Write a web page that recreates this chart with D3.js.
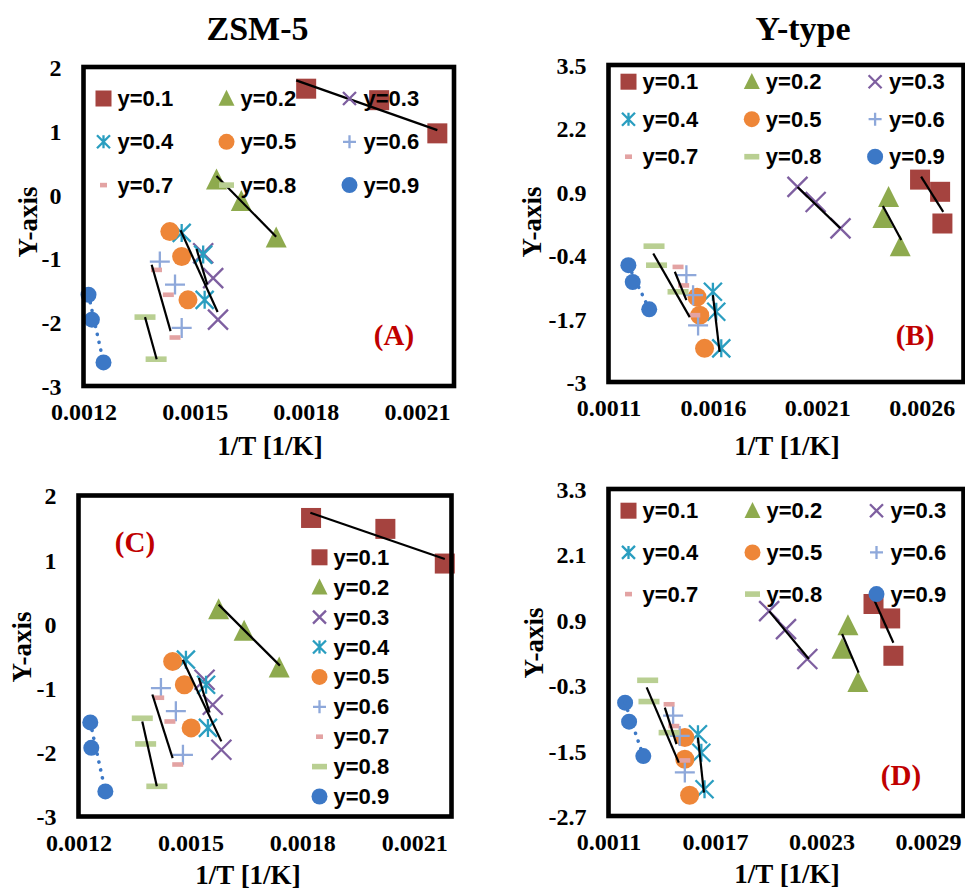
<!DOCTYPE html>
<html><head><meta charset="utf-8">
<script src="https://cdn.jsdelivr.net/npm/d3@7"></script>
<style>body{margin:0;background:#fff} svg{display:block}</style>
</head><body><svg id="c" width="965" height="891"></svg>
<script>
// ---------- data ----------
const seriesLabels = ["y=0.1","y=0.2","y=0.3","y=0.4","y=0.5","y=0.6","y=0.7","y=0.8","y=0.9"];
const panelTitles = ["ZSM-5","Y-type"];
const panelTags = ["(A)","(B)","(C)","(D)"];

// Panel A (ZSM-5, top)
const xA = [[0.001801,0.001998,0.002155],[0.001559,0.001626,0.001720],[0.001523,0.00155,0.001563],
  [0.001465,0.001523,0.001527],[0.001433,0.001465,0.001482],[0.001406,0.001447,0.001465],
  [0.001397,0.001429,0.001447],[0.001366,0.001396],[0.0012135,0.0012226,0.001254]];
const yA = [[1.66,1.48,0.96],[0.23,-0.11,-0.68],[-0.92,-1.31,-1.96],[-0.60,-0.94,-1.65],
  [-0.58,-0.97,-1.65],[-1.05,-1.41,-2.09],[-1.18,-1.57,-2.24],[-1.92,-2.58],[-1.57,-1.96,-2.63]];
// trend lines: [series, x1, y1, x2, y2]
const trA = [[0,0.001774,1.79,0.002155,1.01],[1,0.001559,0.29,0.00172,-0.66],[3,0.001462,-0.56,0.001562,-1.84],
  [2,0.001505,-0.85,0.001534,-1.41],[6,0.001384,-1.10,0.001435,-2.14],[7,0.001366,-1.92,0.0013975,-2.58],
  [8,0.0012135,-1.57,0.001254,-2.63]];

// Panel B (Y-type, top)
const xB = [[0.002592,0.002688,0.002699],[0.002441,0.002414,0.002497],[0.002005,0.002092,0.002211],
  [0.0016,0.001616,0.00164],[0.001524,0.001537,0.00156],[0.001473,0.001505,0.001529],
  [0.001433,0.00146,0.001513],[0.001318,0.00133,0.001433],[0.0011952,0.001216,0.001295]];
const yB = [[1.15,0.90,0.25],[0.78,0.35,-0.23],[1.0,0.69,0.15],[-1.15,-1.56,-2.31],[-1.26,-1.63,-2.31],
  [-0.81,-1.22,-1.84],[-0.64,-1.02,-1.63],[-0.215,-0.605,-1.15],[-0.605,-0.95,-1.51]];
const trB = [[0,0.002597,1.21,0.002703,0.49],[1,0.002414,0.61,0.002502,-0.09],[2,0.002005,1.0,0.002211,0.15],
  [7,0.0013143,-0.365,0.001489,-1.67],[6,0.0014176,-0.74,0.001473,-1.32],[3,0.0016,-1.22,0.001632,-2.38],
  [8,0.0011952,-0.605,0.001295,-1.51]];

// Panel C (ZSM-5, bottom)
const xC = [[0.0018235,0.0020227,0.002182],[0.0015757,0.001644,0.001738],[0.001538,0.00156,0.001583],
  [0.001488,0.001542,0.001547],[0.0014524,0.0014838,0.001502],[0.001421,0.001461,0.00148],
  [0.001415,0.001445,0.001466],[0.001371,0.00138,0.00141],[0.0012316,0.0012343,0.001272]];
const yC = [[1.65,1.48,0.94],[0.22,-0.116,-0.687],[-0.87,-1.26,-1.96],[-0.557,-0.947,-1.62],
  [-0.584,-0.947,-1.62],[-1.0,-1.36,-2.04],[-1.15,-1.52,-2.19],[-1.47,-1.87,-2.53],[-1.535,-1.93,-2.61]];
const trC = [[0,0.0018216,1.73,0.002182,1.01],[1,0.0015757,0.30,0.00174,-0.65],[3,0.0014795,-0.557,0.001583,-1.83],
  [2,0.0015227,-0.843,0.0015514,-1.38],[6,0.001398,-1.10,0.0014524,-2.09],[7,0.001371,-1.52,0.00141,-2.53],
  [8,0.0012316,-1.535,0.001272,-2.61]];

// Panel D (Y-type, bottom)
const xD = [[0.002593,0.002687,0.002705],[0.002449,0.002416,0.002505],[0.002005,0.0021,0.00222],
  [0.001604,0.001623,0.001641],[0.00153,0.00153,0.001557],[0.001464,0.001501,0.00153],
  [0.0014415,0.001468,0.00153],[0.0013206,0.001328,0.0014415],[0.0011935,0.001216,0.001296]];
const yD = [[1.19,0.925,0.24],[0.79,0.36,-0.25],[1.06,0.73,0.18],[-1.2,-1.54,-2.21],[-1.26,-1.66,-2.32],
  [-0.86,-1.23,-1.90],[-0.65,-1.05,-1.68],[-0.21,-0.60,-1.17],[-0.62,-0.97,-1.60]];
const trD = [[0,0.002599,1.25,0.002705,0.48],[1,0.002416,0.64,0.002509,-0.07],[2,0.002005,1.06,0.002229,0.18],
  [7,0.001315,-0.34,0.001496,-1.72],[6,0.0014175,-0.71,0.001483,-1.38],[3,0.001604,-1.26,0.0016375,-2.27],
  [8,0.0011935,-0.62,0.001296,-1.60]];

// axes
const xTicksA = [0.0012,0.0015,0.0018,0.0021], yTicksA = [-3,-2,-1,0,1,2];
const xTicksB = [0.0011,0.0016,0.0021,0.0026], yTicksB = [-3,-1.7,-0.4,0.9,2.2,3.5];
const xTicksC = [0.0012,0.0015,0.0018,0.0021], yTicksC = [-3,-2,-1,0,1,2];
const xTicksD = [0.0011,0.0017,0.0023,0.0029], yTicksD = [-2.7,-1.5,-0.3,0.9,2.1,3.3];
const xDomA = [0.0012,0.0022], yDomA = [-3,2];
const xDomB = [0.0011,0.0028], yDomB = [-3,3.5];
const xDomC = [0.0012,0.0022], yDomC = [-3,2];
const xDomD = [0.0011,0.0031], yDomD = [-2.7,3.3];
const xAxisTitle = "1/T [1/K]", yAxisTitle = "Y-axis";

// ---------- styles ----------
const colors = ["#A5433F","#8EAA4E","#7E5FA0","#2A9EC0","#EE8638","#8EA8DA","#E3A3A3","#B9CF92","#3C78C6"];
const shapes = ["square","triangle","x","star","circle","plus","dash","longdash","circle"];
const plotSize = [20,21,20,18,19,20,11,21,16];
const legendSize = [16,16,13,13,16,13,7,15,16];
const SERIF = "'Liberation Serif','Times New Roman',serif";
const SANS = "'Liberation Sans',Arial,sans-serif";

const svg = d3.select("#c");

function marker(g, shape, s, color){
  if(shape==="square") g.append("rect").attr("x",-s/2).attr("y",-s/2).attr("width",s).attr("height",s).attr("fill",color);
  else if(shape==="circle") g.append("circle").attr("r",s/2).attr("fill",color);
  else if(shape==="triangle") g.append("path").attr("d",`M0,${-s*0.55}L${s/2},${s*0.45}L${-s/2},${s*0.45}Z`).attr("fill",color);
  else if(shape==="x") g.append("path").attr("d",`M${-s/2},${-s/2}L${s/2},${s/2}M${s/2},${-s/2}L${-s/2},${s/2}`).attr("stroke",color).attr("stroke-width",2.3).attr("fill","none");
  else if(shape==="plus") g.append("path").attr("d",`M${-s/2},0L${s/2},0M0,${-s/2}L0,${s/2}`).attr("stroke",color).attr("stroke-width",2.3).attr("fill","none");
  else if(shape==="star") g.append("path").attr("d",`M${-s/2},${-s/2}L${s/2},${s/2}M${s/2},${-s/2}L${-s/2},${s/2}M0,${-s/2}L0,${s/2}`).attr("stroke",color).attr("stroke-width",2.3).attr("fill","none");
  else if(shape==="dash") g.append("rect").attr("x",-s/2).attr("y",-2.3).attr("width",s).attr("height",4.6).attr("fill",color);
  else if(shape==="longdash") g.append("rect").attr("x",-s/2).attr("y",-2.8).attr("width",s).attr("height",5.6).attr("fill",color);
}

const panels = [
  {xs:xA, ys:yA, tr:trA, xd:xDomA, yd:yDomA, xt:xTicksA, yt:yTicksA, box:[83.5,67,454,386],
   yTitle:[28,222], xTitle:[270,455], tag:[394,335],
   legend:{type:"grid", x0:103.5, dx:123, y0:98.5, dy:43.3}},
  {xs:xB, ys:yB, tr:trB, xd:xDomB, yd:yDomB, xt:xTicksB, yt:yTicksB, box:[608.5,65,963.5,382],
   yTitle:[531.5,222], xTitle:[787,455], tag:[915,335],
   legend:{type:"grid", x0:628.5, dx:123.3, y0:81.7, dy:37.5}},
  {xs:xC, ys:yC, tr:trC, xd:xDomC, yd:yDomC, xt:xTicksC, yt:yTicksC, box:[78.5,495.5,451.5,816.5],
   yTitle:[22,647], xTitle:[248,884], tag:[135,542],
   legend:{type:"col", x0:319.5, y0:557.3, dy:29.9}},
  {xs:xD, ys:yD, tr:trD, xd:xDomD, yd:yDomD, xt:xTicksD, yt:yTicksD, box:[608.5,489,963.5,816],
   yTitle:[533.5,643], xTitle:[787,883], tag:[901,775],
   legend:{type:"grid", x0:628.5, dx:124, y0:510.7, dy:41.7}}
];

// titles
svg.append("text").attr("x",257.5).attr("y",40).attr("text-anchor","middle")
  .attr("font-family",SERIF).attr("font-weight","bold").attr("font-size",34).text(panelTitles[0]);
svg.append("text").attr("x",803).attr("y",40).attr("text-anchor","middle")
  .attr("font-family",SERIF).attr("font-weight","bold").attr("font-size",34).text(panelTitles[1]);

panels.forEach((p,pi)=>{
  const [L,T,R,B] = p.box;
  const x = d3.scaleLinear().domain(p.xd).range([L,R]);
  const y = d3.scaleLinear().domain(p.yd).range([B,T]);
  const g = svg.append("g");

  // axes (labels only)
  const ax = g.append("g").attr("transform",`translate(0,${B})`)
    .call(d3.axisBottom(x).tickValues(p.xt).tickSize(0).tickPadding(17).tickFormat(d=>String(d)));
  const ay = g.append("g").attr("transform",`translate(${L},0)`)
    .call(d3.axisLeft(y).tickValues(p.yt).tickSize(0).tickPadding(22).tickFormat(d=>String(d)));
  [ax,ay].forEach(a=>{
    a.select(".domain").remove();
    a.selectAll("text").attr("font-family",SERIF).attr("font-weight","bold").attr("font-size",24).attr("fill","#000");
  });
  ax.selectAll("text").attr("dy","0.71em");
  ay.selectAll("text").attr("dy","0.35em");

  // series markers
  p.xs.forEach((xsArr,si)=>{
    xsArr.forEach((xv,k)=>{
      const mg = g.append("g").attr("transform",`translate(${x(xv)},${y(p.ys[si][k])})`);
      marker(mg, shapes[si], plotSize[si], colors[si]);
    });
  });

  // trend lines
  p.tr.forEach(t=>{
    const ln = g.append("line").attr("x1",x(t[1])).attr("y1",y(t[2])).attr("x2",x(t[3])).attr("y2",y(t[4]));
    if(t[0]===8) ln.attr("stroke",colors[8]).attr("stroke-width",3.6).attr("stroke-dasharray","0.1 8").attr("stroke-linecap","round");
    else ln.attr("stroke","#000").attr("stroke-width",2.2);
  });

  // frame
  g.append("rect").attr("x",L).attr("y",T).attr("width",R-L).attr("height",B-T)
    .attr("fill","none").attr("stroke","#000").attr("stroke-width",4.6);

  // legend
  const lg = p.legend;
  seriesLabels.forEach((lab,si)=>{
    let mx,my;
    if(lg.type==="grid"){ mx = lg.x0 + (si%3)*lg.dx; my = lg.y0 + Math.floor(si/3)*lg.dy; }
    else { mx = lg.x0; my = lg.y0 + si*lg.dy; }
    const mg = g.append("g").attr("transform",`translate(${mx},${my})`);
    marker(mg, shapes[si], legendSize[si], colors[si]);
    g.append("text").attr("x",mx+14).attr("y",my).attr("dominant-baseline","central")
      .attr("font-family",SANS).attr("font-weight","bold").attr("font-size",22).attr("fill","#000").text(lab);
  });

  // axis titles
  g.append("text").attr("transform",`translate(${p.yTitle[0]},${p.yTitle[1]}) rotate(-90)`)
    .attr("text-anchor","middle").attr("dominant-baseline","central")
    .attr("font-family",SERIF).attr("font-weight","bold").attr("font-size",27).text(yAxisTitle);
  g.append("text").attr("x",p.xTitle[0]).attr("y",p.xTitle[1]).attr("text-anchor","middle")
    .attr("font-family",SERIF).attr("font-weight","bold").attr("font-size",27).text(xAxisTitle);

  // panel tag
  g.append("text").attr("x",p.tag[0]).attr("y",p.tag[1]).attr("text-anchor","middle").attr("dominant-baseline","central")
    .attr("font-family",SERIF).attr("font-weight","bold").attr("font-size",29).attr("fill","#C00000").text(panelTags[pi]);
});
</script></body></html>
